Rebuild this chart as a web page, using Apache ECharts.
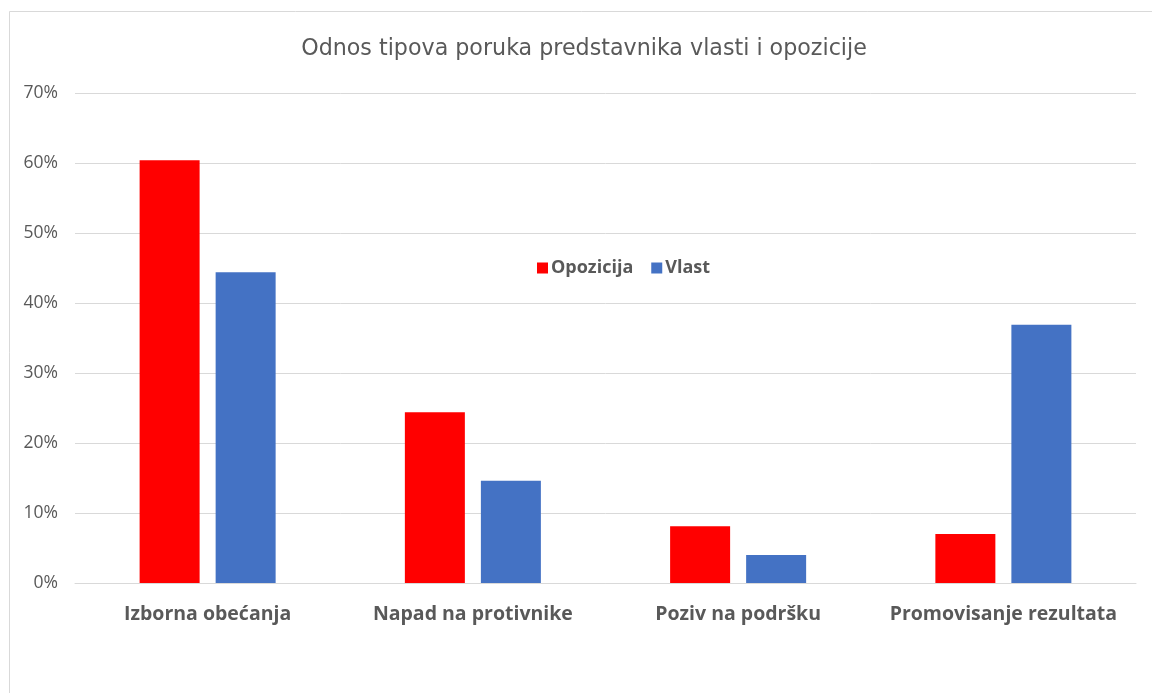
<!DOCTYPE html>
<html>
<head>
<meta charset="utf-8">
<script src="https://cdn.jsdelivr.net/npm/echarts@6/dist/echarts.min.js"></script>
<style>
  html, body { margin: 0; padding: 0; background: #fff; }
  #chart { width: 1152px; height: 693px; }
</style>
</head>
<body>
<div id="chart"></div>
<script>
var categories = ['Izborna obećanja', 'Napad na protivnike', 'Poziv na podršku', 'Promovisanje rezultata'];
var opozicija = [60.4, 24.4, 8.1, 7.0];
var vlast = [44.4, 14.6, 4.0, 36.9];

var chart = echarts.init(document.getElementById('chart'), null, { renderer: 'canvas' });
chart.setOption({
  animation: false,
  backgroundColor: '#fff',
  graphic: [{
    type: 'rect',
    shape: { x: 9.5, y: 11.5, width: 1200, height: 800 },
    style: { fill: 'none', stroke: '#d9d9d9', lineWidth: 1 },
    silent: true
  }],
  title: {
    text: 'Odnos tipova poruka predstavnika vlasti i opozicije',
    left: 579,
    textAlign: 'center',
    top: 33,
    textStyle: { color: '#595959', fontSize: 22.2, fontWeight: 'normal', fontFamily: 'DejaVu Sans' }
  },
  legend: {
    left: 532,
    top: 254,
    itemWidth: 11,
    itemHeight: 11,
    itemGap: 18,
    icon: 'rect',
    textStyle: { color: '#595959', fontSize: 18, fontWeight: 'bold', fontFamily: 'Open Sans', padding: [0, 0, 0, -2] },
    data: ['Opozicija', 'Vlast']
  },
  grid: { left: 75, right: 16, top: 93, bottom: 110, containLabel: false },
  xAxis: {
    type: 'category',
    data: categories,
    axisLine: { lineStyle: { color: '#d9d9d9', width: 1 } },
    axisTick: { show: false },
    axisLabel: { interval: 0, color: '#595959', fontSize: 19.5, fontWeight: 'bold', fontFamily: 'Open Sans', margin: 21 }
  },
  yAxis: {
    type: 'value',
    min: 0,
    max: 70,
    interval: 10,
    axisLine: { show: false },
    axisTick: { show: false },
    splitLine: { lineStyle: { color: '#d9d9d9', width: 1 } },
    axisLabel: { color: '#595959', fontSize: 17.5, fontFamily: 'Open Sans', margin: 17, formatter: '{value}%' }
  },
  series: [
    { name: 'Opozicija', type: 'bar', data: opozicija, barWidth: 60, barGap: '26.7%', itemStyle: { color: '#ff0000' } },
    { name: 'Vlast', type: 'bar', data: vlast, barWidth: 60, itemStyle: { color: '#4472c4' } }
  ]
});
</script>
</body>
</html>
